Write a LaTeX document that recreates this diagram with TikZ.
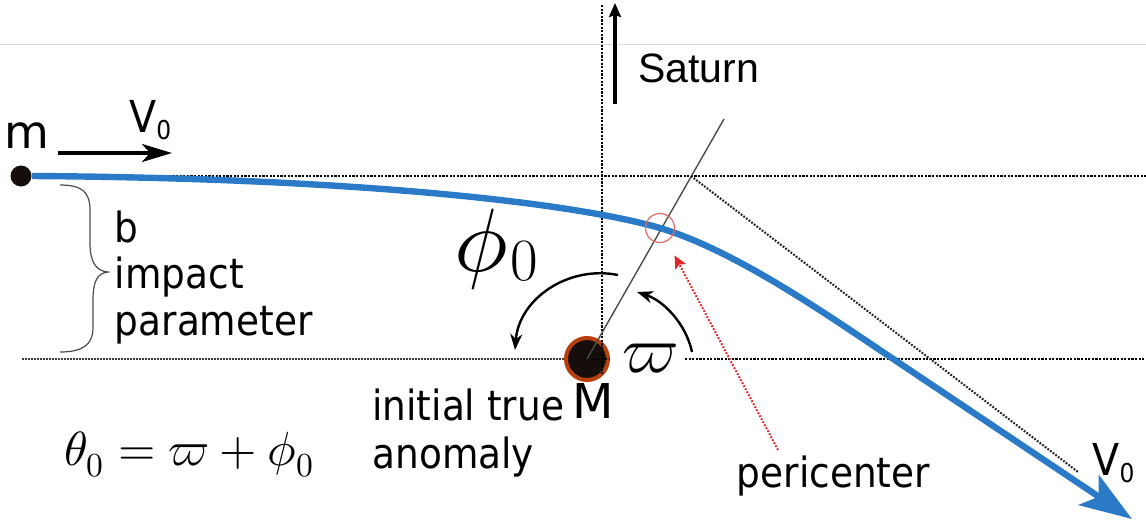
\documentclass[tikz,border=0pt]{standalone}
\usepackage{fontspec}
\usepackage{unicode-math}
\setmathfont{Latin Modern Math}
\newfontfamily\labelfont[FakeStretch=0.9]{DejaVu Sans}
\newfontfamily\massfont{DejaVu Sans}
\newfontfamily\saturnfont{Liberation Sans}
\usepackage{tikz}
\usetikzlibrary{arrows.meta, positioning}
\definecolor{trajblue}{HTML}{2A7AC8}
\definecolor{planetcore}{HTML}{150E0A}
\definecolor{planetrim}{HTML}{B8400E}
\definecolor{pericol}{HTML}{E46A6A}
\definecolor{pointred}{HTML}{E42424}
\newcommand{\lowzero}[2]{\raisebox{-#1}{\fontsize{#2}{#2}\selectfont 0}}

\begin{document}
\begin{tikzpicture}[
    x=0.5pt, y=-0.5pt,
    txt/.style={inner sep=0pt, anchor=base west, font=\labelfont\fontsize{20.8}{23.5}\selectfont},
    vlabel/.style={inner sep=0pt, anchor=base west, font=\labelfont\fontsize{22}{22}\selectfont},
    masslabel/.style={inner sep=0pt, anchor=base west, font=\massfont\fontsize{#1}{#1}\selectfont},
    mathlabel/.style={inner sep=0pt, anchor=base west, font=\fontsize{#1}{#1}\selectfont},
    body/.style={circle, fill=planetcore, minimum size=10.5pt, inner sep=0pt},
    planet/.style={circle, fill=planetcore, draw=planetrim, line width=2pt, minimum size=21pt, inner sep=0pt},
    pericircle/.style={circle, draw=pericol, line width=0.6pt, minimum size=14.5pt, inner sep=0pt},
    lightrule/.style={line width=0.5pt, color=black!15},
    dotline/.style={line width=1.35pt, dash pattern=on 1.1pt off 0.7pt},
    faintdot/.style={line width=0.9pt, color=black!75, dash pattern=on 0.8pt off 0.7pt},
    diagdot/.style={line width=1.05pt, color=black!85, dash pattern=on 0.9pt off 0.75pt},
    apse/.style={line width=0.7pt, color=black!70},
    traj/.style={line width=3.2pt, color=trajblue, -{Stealth[length=26pt, width=18pt, inset=6pt]}},
    vel/.style={line width=1.6pt, -{Stealth[length=15pt, width=9pt, inset=4pt]}},
    sunward/.style={line width=2pt, -{Stealth[length=7pt, width=6pt, inset=1pt]}},
    arcarrow/.style={line width=1.2pt, -{Stealth[length=8pt, width=6pt, inset=2.5pt]}},
    pointer/.style={line width=1pt, color=pointred, dash pattern=on 0.9pt off 0.8pt, -{Stealth[length=6.5pt, width=6pt, inset=1.5pt]}, shorten >=8pt},
    bracestroke/.style={line width=0.6pt, color=black!70},
]
    \useasboundingbox (0,0) rectangle (1146,525);

    % Fixed points
    \coordinate (axtop) at (602,5);
    \coordinate (axbot) at (602,375);
    \coordinate (hiR) at (1146,176);
    \coordinate (loL) at (22,359);
    \coordinate (loRs) at (685,359);
    \coordinate (loR) at (1146,359);
    \coordinate (peri) at (660,228);
    \coordinate (apsis) at (724,119);
    \coordinate (cross) at (691,176);
    \coordinate (asym) at (1078,472);
    \coordinate (vtip) at (1132,519);

    \draw[lightrule] (0,44) -- (1146,44);

    % Masses
    \node[body] (m) at (21,176) {};
    \node[planet] (M) at (587,359) {};

    % Reference lines
    \draw[dotline] (m) -- (hiR);
    \draw[dotline] (axtop) -- (axbot);
    \draw[faintdot] (loL) -- (M);
    \draw[dotline] (M.center) -- (M.east);
    \draw[dotline] (loRs) -- (loR);
    \draw[apse] (M.center) -- (apsis);
    \draw[diagdot] (cross) -- (asym);

    % Trajectory
    \draw[traj] (m.east) .. controls (350,178) and (570,202) .. (peri)
        .. controls (720,246) and (790,290) .. (850,330) -- (vtip);
    \node[pericircle] (pc) at (peri) {};

    % Velocity and Saturn direction
    \coordinate (v0a) at (58,153);
    \coordinate (v0b) at (172,153);
    \draw[vel] (v0a) -- (v0b);
    \coordinate (satfoot) at (615,104);
    \coordinate (sathead) at (615,3);
    \draw[sunward] (satfoot) -- (sathead);

    % Impact parameter
    \draw[bracestroke] (60,185) .. controls (82,185) and (90,192) .. (90,210) -- (90,243)
        .. controls (90,262) and (96,271) .. (108,272)
        .. controls (97,273) and (93,282) .. (93,300) -- (93,328)
        .. controls (93,345) and (82,352) .. (60,352);

    % Angles
    \coordinate (phiA) at (618,275);
    \coordinate (phiB) at (515,350);
    \coordinate (pomA) at (692,352);
    \coordinate (pomB) at (637,292);
    \draw[arcarrow] (phiA) .. controls (568,265) and (519,299) .. (phiB);
    \draw[arcarrow] (pomA) .. controls (686,324) and (664,301) .. (pomB);

    % Pericenter pointer
    \coordinate (ptail) at (778,450);
    \draw[pointer] (ptail) -- (pc);

    % Labels
    \node[masslabel=23] (mlbl) at (4,148) {m};
    \node[vlabel] (vin) at (129,132) {V\lowzero{3.5pt}{13}};
    \node[txt] (blbl) at (114.5,242) {b};
    \node[txt] (imp) at ([yshift=-23pt]blbl.base west) {impact};
    \node[txt] (par) at ([yshift=-23.5pt]imp.base west) {parameter};
    \node[txt] (init) at (372,420) {initial true};
    \node[txt] (anom) at ([yshift=-24pt]init.base west) {anomaly};
    \node[masslabel=24] (Mlbl) at (572,418) {M};
    \node[txt] (plbl) at (736.5,487) {pericenter};
    \node[vlabel] (vout) at (1092,475) {V\lowzero{3.5pt}{13}};
    \node[inner sep=0pt, anchor=base west, font=\saturnfont\fontsize{20.5}{20.5}\selectfont] (sat) at (638,82) {Saturn};
    \node[mathlabel=45] (phi) at (454,271) {$\phi$\kern1pt\lowzero{4.5pt}{30}};
    \node[mathlabel=33] (pomega) at (622,372) {$\varpi$};
    \node[mathlabel=24] (theta) at (64,465) {$\theta_0 = \varpi + \phi_0$};

\end{tikzpicture}
\end{document}
